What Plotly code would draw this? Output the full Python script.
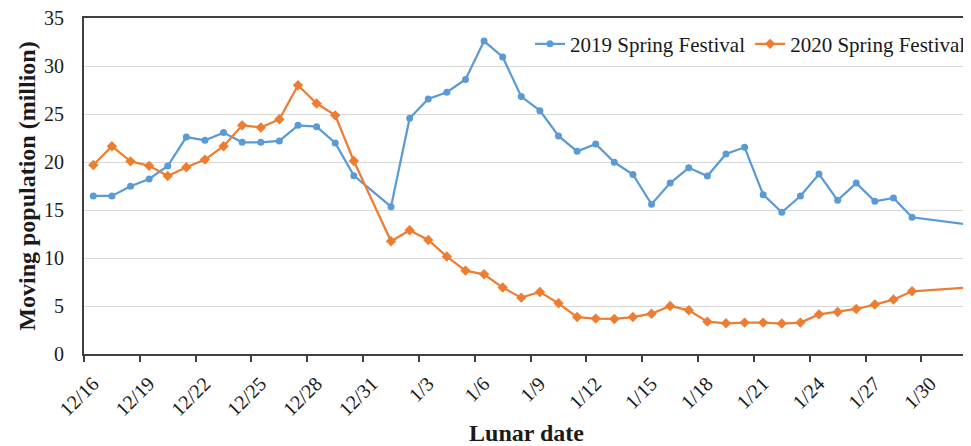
import pandas as pd
import plotly.graph_objects as go

# Lunar dates of the observations (12th month, then 1st month; 12/31, 1/30, 1/31 missing)
point_dates = (["12/%d" % d for d in range(16, 31)]
               + ["1/%d" % d for d in range(1, 30)]
               + ["2/1"])

series_2019 = [16.46, 16.46, 17.47, 18.23, 19.58, 22.6, 22.26, 23.06, 22.05, 22.05,
               22.2, 23.82, 23.68, 21.98, 18.58,
               15.35, 24.55, 26.56, 27.26, 28.6, 32.6, 30.94, 26.81, 25.35, 22.71,
               21.11, 21.88, 19.97, 18.7, 15.6, 17.8, 19.4, 18.54, 20.83, 21.53,
               16.6, 14.76, 16.46, 18.75, 16.01, 17.8, 15.9, 16.25, 14.24,
               13.48]

series_2020 = [19.69, 21.64, 20.07, 19.6, 18.54, 19.45, 20.25, 21.64, 23.82, 23.6,
               24.45, 27.99, 26.1, 24.86, 20.1,
               11.74, 12.89, 11.88, 10.15, 8.69, 8.3, 6.92, 5.87, 6.46, 5.28,
               3.85, 3.69, 3.65, 3.85, 4.2, 5.0, 4.55, 3.37, 3.2, 3.27,
               3.27, 3.17, 3.27, 4.13, 4.38, 4.69, 5.15, 5.67, 6.53,
               6.92]

y_ticks = [0, 5, 10, 15, 20, 25, 30, 35]

series_names = ["2019 Spring Festival", "2020 Spring Festival"]


def to_proxy_date(label):
    m, d = (int(v) for v in label.split("/"))
    year = 2000 if m == 12 else 2001
    # points sit in the middle of each day slot (Excel "between tick marks")
    return pd.Timestamp(year=year, month=m, day=d) + pd.Timedelta(hours=12)


x = [to_proxy_date(s) for s in point_dates]

FONT = "Liberation Serif, Times New Roman, serif"
TXT = "#1a1a1a"
AX = "#404040"

fig = go.Figure()
fig.add_trace(go.Scatter(
    x=x, y=series_2019, name=series_names[0], mode="lines+markers",
    line=dict(color="#5B9BD5", width=2.25),
    marker=dict(symbol="circle", size=7, color="#5B9BD5"),
))
fig.add_trace(go.Scatter(
    x=x, y=series_2020, name=series_names[1], mode="lines+markers",
    line=dict(color="#ED7D31", width=2.25),
    marker=dict(symbol="diamond", size=8, color="#ED7D31"),
))

x_start = pd.Timestamp("2000-12-16")
x_end = x_start + pd.Timedelta(days=47.56)

# the page body has an 8px margin, so the figure is 8px smaller than the window
fig.update_layout(
    width=963, height=438,
    margin=dict(l=76, r=0, t=10, b=92),
    paper_bgcolor="white", plot_bgcolor="white",
    font=dict(family=FONT, size=20, color=TXT),
    showlegend=True,
    legend=dict(
        orientation="h", x=0.504, xanchor="left", y=0.922, yanchor="middle",
        bgcolor="rgba(0,0,0,0)", font=dict(size=21, family=FONT, color=TXT),
        itemwidth=30, tracegroupgap=0,
    ),
    xaxis=dict(
        type="date", range=[x_start, x_end], automargin=False,
        tick0=x_start, dtick=3 * 86400000, tickformat="%-m/%-d",
        tickangle=-45, ticks="outside", ticklen=6, tickwidth=1.5, tickcolor=AX,
        ticklabelshift=9, ticklabelstandoff=2, ticklabeloverflow="allow",
        showline=True, linecolor=AX, linewidth=2, mirror=True,
        showgrid=False, zeroline=False,
        tickfont=dict(size=20, family=FONT, color=TXT),
        title=dict(text="<b>Lunar date</b>", font=dict(size=24, family=FONT, color=TXT),
                   standoff=6),
    ),
    yaxis=dict(
        range=[0, 35], tickvals=y_ticks, ticks="", automargin=False,
        showline=True, linecolor=AX, linewidth=2,
        showgrid=True, gridcolor="#d9d9d9", gridwidth=1.2, zeroline=False,
        tickfont=dict(size=20, family=FONT, color=TXT),
        ticklabelstandoff=14, ticklabeloverflow="allow",
        title=dict(text="<b>Moving population (million)</b>",
                   font=dict(size=24, family=FONT, color=TXT), standoff=2),
    ),
)

fig.write_html("out.html")
